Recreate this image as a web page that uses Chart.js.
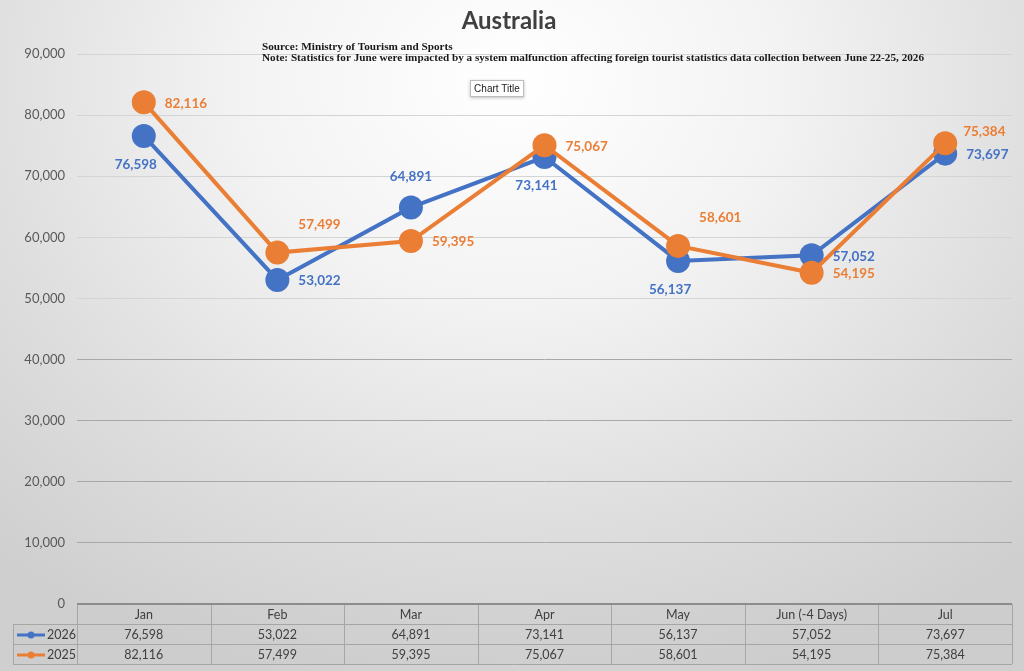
<!DOCTYPE html>
<html>
<head>
<meta charset="utf-8">
<script src="https://cdn.jsdelivr.net/npm/chart.js@4.4.1/dist/chart.umd.min.js"></script>
<style>
  html, body { margin: 0; padding: 0; width: 1024px; height: 671px; overflow: hidden; }
  body { background: radial-gradient(ellipse 75% 95% at 50% 12%, #ffffff 0%, #f3f3f3 35%, #dedede 70%, #cfcfcf 100%); }
  canvas { display: block; }
</style>
</head>
<body>
<canvas id="c" width="1024" height="671"></canvas>
<script>
const categories = ['Jan', 'Feb', 'Mar', 'Apr', 'May', 'Jun (-4 Days)', 'Jul'];
const series2026 = [76598, 53022, 64891, 73141, 56137, 57052, 73697];
const series2025 = [82116, 57499, 59395, 75067, 58601, 54195, 75384];
const yTicks = [0, 10000, 20000, 30000, 40000, 50000, 60000, 70000, 80000, 90000];
const labelPos2026 = ['below', 'right', 'above', 'below', 'below', 'right', 'right'];
const labelPos2025 = ['right', 'aboveRight', 'right', 'right', 'aboveRight', 'right', 'rightHigh'];

const BLUE = '#4472C4';
const ORANGE = '#EB7E35';
const fmt = v => v.toLocaleString('en-US');

const labelOffsets = {
  right: { dx: 21, dy: 1, align: 'left' },
  below: { dx: -8, dy: 29, align: 'center' },
  above: { dx: 0, dy: -31, align: 'center' },
  aboveRight: { dx: 21, dy: -28, align: 'left' },
  rightHigh: { dx: 18, dy: -12, align: 'left' }
};

const overlayPlugin = {
  id: 'overlay',
  afterDatasetsDraw(chart) {
    const ctx = chart.ctx;
    const sets = [{ idx: 0, pos: labelPos2026, color: BLUE }, { idx: 1, pos: labelPos2025, color: ORANGE }];
    ctx.save();
    ctx.font = 'bold 13.5px Lato, "Open Sans", sans-serif';
    ctx.textBaseline = 'middle';
    sets.forEach(s => {
      const meta = chart.getDatasetMeta(s.idx);
      const vals = chart.data.datasets[s.idx].data;
      meta.data.forEach((pt, i) => {
        const o = labelOffsets[s.pos[i]];
        ctx.fillStyle = s.color;
        ctx.textAlign = o.align;
        ctx.fillText(fmt(vals[i]), pt.x + o.dx, pt.y + o.dy);
      });
    });
    ctx.restore();
  },
  afterDraw(chart) {
    const ctx = chart.ctx;
    const area = chart.chartArea;
    const xs = chart.scales.x;
    ctx.save();
    ctx.fillStyle = '#404040';
    ctx.font = 'bold 24px Lato, "Open Sans", sans-serif';
    ctx.textAlign = 'center';
    ctx.textBaseline = 'middle';
    ctx.fillText('Australia', 509, 21);
    ctx.fillStyle = '#1a1a1a';
    ctx.font = 'bold 11.2px "Liberation Serif", "DejaVu Serif", serif';
    ctx.textAlign = 'left';
    ctx.textBaseline = 'alphabetic';
    ctx.fillText('Source: Ministry of Tourism and Sports', 262, 50);
    ctx.fillText('Note: Statistics for June were impacted by a system malfunction affecting foreign tourist statistics data collection between June 22-25, 2026', 262, 61, 662);
    ctx.shadowColor = 'rgba(0,0,0,0.25)';
    ctx.shadowBlur = 3;
    ctx.shadowOffsetY = 1;
    ctx.fillStyle = '#ffffff';
    ctx.fillRect(470, 80, 54, 17);
    ctx.shadowColor = 'transparent';
    ctx.strokeStyle = '#bdbdbd';
    ctx.lineWidth = 1;
    ctx.strokeRect(470.5, 80.5, 53, 16);
    ctx.fillStyle = '#222';
    ctx.font = '10px "Liberation Sans", Arial, sans-serif';
    ctx.textAlign = 'center';
    ctx.textBaseline = 'middle';
    ctx.fillText('Chart Title', 497, 89);

    const top = area.bottom;
    const rowH = 20;
    const legendLeft = 13;
    const n = categories.length;
    const bounds = [area.left];
    for (let i = 0; i < n - 1; i++) {
      bounds.push((xs.getPixelForValue(i) + xs.getPixelForValue(i + 1)) / 2);
    }
    bounds.push(area.right);
    ctx.fillStyle = 'rgba(200,200,200,0.35)';
    ctx.fillRect(area.left, top, area.right - area.left, rowH);
    ctx.fillRect(legendLeft, top + rowH, area.right - legendLeft, rowH * 2);
    ctx.strokeStyle = '#a6a6a6';
    ctx.lineWidth = 1;
    ctx.beginPath();
    ctx.moveTo(area.left, top + 0.5); ctx.lineTo(area.right, top + 0.5);
    for (let r = 1; r <= 3; r++) {
      const y = Math.round(top + r * rowH) + 0.5;
      ctx.moveTo(legendLeft, y); ctx.lineTo(area.right, y);
    }
    bounds.forEach(b => {
      const x = Math.round(b) + 0.5;
      ctx.moveTo(x, top); ctx.lineTo(x, top + 3 * rowH);
    });
    ctx.moveTo(legendLeft + 0.5, top + rowH); ctx.lineTo(legendLeft + 0.5, top + 3 * rowH);
    ctx.stroke();
    ctx.strokeStyle = '#8c8c8c';
    ctx.lineWidth = 2;
    ctx.beginPath();
    ctx.moveTo(area.left, top); ctx.lineTo(area.right, top);
    ctx.stroke();

    ctx.fillStyle = '#404040';
    ctx.font = '12.5px Lato, "Open Sans", sans-serif';
    ctx.textAlign = 'center';
    ctx.textBaseline = 'middle';
    for (let i = 0; i < n; i++) {
      const cx = xs.getPixelForValue(i);
      ctx.fillText(categories[i], cx, top + rowH / 2 + 1);
      ctx.fillText(fmt(series2026[i]), cx, top + rowH * 1.5 + 1);
      ctx.fillText(fmt(series2025[i]), cx, top + rowH * 2.5 + 1);
    }
    const keys = [{ label: '2026', color: BLUE }, { label: '2025', color: ORANGE }];
    keys.forEach((k, j) => {
      const y = top + rowH * (1.5 + j) + 1;
      ctx.strokeStyle = k.color;
      ctx.lineWidth = 3;
      ctx.beginPath();
      ctx.moveTo(17, y); ctx.lineTo(45, y);
      ctx.stroke();
      ctx.fillStyle = k.color;
      ctx.beginPath();
      ctx.arc(31, y, 3.5, 0, Math.PI * 2);
      ctx.fill();
      ctx.fillStyle = '#404040';
      ctx.textAlign = 'left';
      ctx.fillText(k.label, 47, y);
    });
    ctx.restore();
  }
};

new Chart(document.getElementById('c'), {
  type: 'line',
  data: {
    labels: categories,
    datasets: [
      {
        label: '2026', data: series2026, borderColor: BLUE, backgroundColor: BLUE,
        borderWidth: 4, pointRadius: 12, pointHoverRadius: 12, pointBorderWidth: 0,
        tension: 0, order: 1
      },
      {
        label: '2025', data: series2025, borderColor: ORANGE, backgroundColor: ORANGE,
        borderWidth: 4, pointRadius: 12, pointHoverRadius: 12, pointBorderWidth: 0,
        tension: 0, order: 0
      }
    ]
  },
  options: {
    responsive: false,
    animation: false,
    devicePixelRatio: 1,
    layout: { padding: { top: 54, left: 0, right: 12, bottom: 67 } },
    plugins: { legend: { display: false }, title: { display: false }, tooltip: { enabled: false } },
    scales: {
      x: { type: 'category', offset: true, display: false },
      y: {
        min: 0, max: 90000,
        afterBuildTicks: s => { s.ticks = yTicks.map(v => ({ value: v })); },
        afterFit: s => { s.width = 77; },
        border: { display: false },
        grid: {
          drawTicks: false,
          lineWidth: 1,
          color: c => (c.tick && c.tick.value === 0) ? 'rgba(0,0,0,0)' : (c.tick.value <= 40000 ? '#a8a8a8' : '#d4d4d4')
        },
        ticks: {
          padding: 12,
          color: '#595959',
          font: { family: 'Lato, "Open Sans", sans-serif', size: 13 },
          callback: v => fmt(v)
        }
      }
    }
  },
  plugins: [overlayPlugin]
});
</script>
</body>
</html>
